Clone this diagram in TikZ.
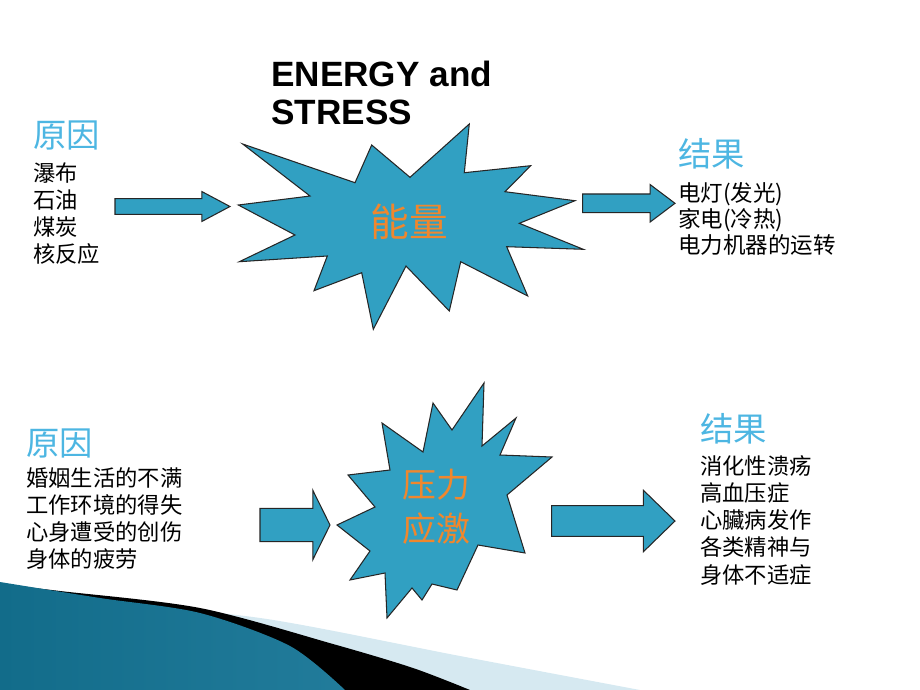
\documentclass[tikz,border=0pt]{standalone}
\usepackage{fontspec}
\setmainfont{Liberation Sans}
\newfontfamily\cjk{Noto Sans CJK SC}
\usetikzlibrary{calc}

\definecolor{starblue}{RGB}{49,160,194}
\definecolor{titleblue}{RGB}{77,182,226}
\definecolor{starorange}{RGB}{240,135,45}
\definecolor{palesky}{RGB}{214,233,241}
\definecolor{tealdark}{RGB}{18,108,138}
\definecolor{teallight}{RGB}{95,186,222}

\tikzset{
  star/.style={fill=starblue, draw=black!85, line width=0.6pt, line join=miter},
  blockarrow/.style={fill=starblue, draw=black!85, line width=0.6pt},
  head/.style={inner sep=0, anchor=north west, text=titleblue, font=\cjk\fontsize{19}{22}\selectfont},
  list/.style={inner sep=0, anchor=north west, align=left, font=\cjk\fontsize{12.7}{15.5}\selectfont},
  startext/.style={inner sep=0, align=center, text=starorange}
}

% tail, tip, shaft half width, head half width, head length
\newcommand{\fatarrow}[5]{%
  \draw[blockarrow] let \p1=(#1), \p2=(#2) in
    (\x1,\y1+#3) -- (\x2-#5,\y1+#3) -- (\x2-#5,\y1+#4) -- (\x2,\y2)
    -- (\x2-#5,\y1-#4) -- (\x2-#5,\y1-#3) -- (\x1,\y1-#3) -- cycle;}

\begin{document}
\begin{tikzpicture}[x=0.02cm, y=-0.02cm]
  \useasboundingbox (0,0) rectangle (920,690);

  % swoosh at the bottom left
  \fill[palesky] plot[smooth] coordinates {(0,584) (100,601) (267,619) (460,656) (640,690)} -- (0,690) -- cycle;
  \fill[black] plot[smooth] coordinates {(0,584) (60,591) (200,608) (333,644) (413,668) (470,690)} -- (0,690) -- cycle;
  \shade[left color=tealdark, middle color=teallight, right color=tealdark!80!teallight]
    plot[smooth] coordinates {(0,582) (100,598) (200,613) (290,646) (345,690)} -- (0,690) -- cycle;

  \node[inner sep=0, anchor=north west, align=left, font=\bfseries\fontsize{20}{21.5}\selectfont] (title) at (271,61) {ENERGY and\\STRESS};

  % energy star
  \draw[star] (242.7,144) -- (355,182.7) -- (371.7,145) -- (410,177.3) -- (469.3,124) -- (464.3,172.7)
    -- (530.7,165.7) -- (505,191.7) -- (575,200.7) -- (519.3,223.3) -- (583.3,249.3) -- (506.7,246.7)
    -- (527.7,296) -- (460.7,261.7) -- (449.3,311) -- (406,266) -- (373.3,329.3) -- (361.7,272.7)
    -- (314,290.7) -- (327.3,256) -- (239.3,261.7) -- (295,235) -- (238.3,205) -- (310,196) -- cycle;
  \node[startext, font=\cjk\fontsize{22}{26}\selectfont] (energy) at (409,222) {能量};

  % stress star
  \draw[star] (484,383) -- (452,430) -- (433,403) -- (423,452) -- (382,423) -- (390,470)
    -- (348,475) -- (375,507) -- (337,525) -- (370,551) -- (350,580) -- (385,573)
    -- (387,618) -- (412,588) -- (422,600) -- (432,584) -- (457,590) -- (478,545)
    -- (525,553) -- (507,495) -- (552,457) -- (500,455) -- (516,418) -- (482,446) -- cycle;
  \node[startext, font=\cjk\fontsize{19.3}{25}\selectfont] (stress) at (436,507) {压力\\应激};

  % top row
  \node[head] (causeA-title) at (33,120) {原因};
  \node[list] (causeA) at (33,162) {瀑布\\石油\\煤炭\\核反应};
  \node[head] (effectA-title) at (678,138) {结果};
  \node[list, font=\cjk\fontsize{12.8}{14.8}\selectfont] (effectA) at (678,182) {电灯(发光)\\家电(冷热)\\电力机器的运转};

  % bottom row
  \node[head] (causeB-title) at (26,428) {原因};
  \node[list] (causeB) at (26,467) {婚姻生活的不满\\工作环境的得失\\心身遭受的创伤\\身体的疲劳};
  \node[head] (effectB-title) at (700,413) {结果};
  \node[list] (effectB) at (700,455) {消化性溃疡\\高血压症\\心臟病发作\\各类精神与\\身体不适症};

  % arrows
  \coordinate (causeA-out) at (115,206.5);
  \coordinate (energy-in) at (230,206.5);
  \coordinate (energy-out) at (582.7,203.3);
  \coordinate (effectA-in) at (675,203.3);
  \coordinate (causeB-out) at (260,525);
  \coordinate (stress-in) at (330,525);
  \coordinate (stress-out) at (551.7,521);
  \coordinate (effectB-in) at (675,521);
  \fatarrow{causeA-out}{energy-in}{4.45pt}{8.5pt}{16pt}
  \fatarrow{energy-out}{effectA-in}{5.3pt}{10.7pt}{14.2pt}
  \fatarrow{causeB-out}{stress-in}{9.5pt}{19.8pt}{9.8pt}
  \fatarrow{stress-out}{effectB-in}{8.7pt}{17.5pt}{18pt}
\end{tikzpicture}
\end{document}
